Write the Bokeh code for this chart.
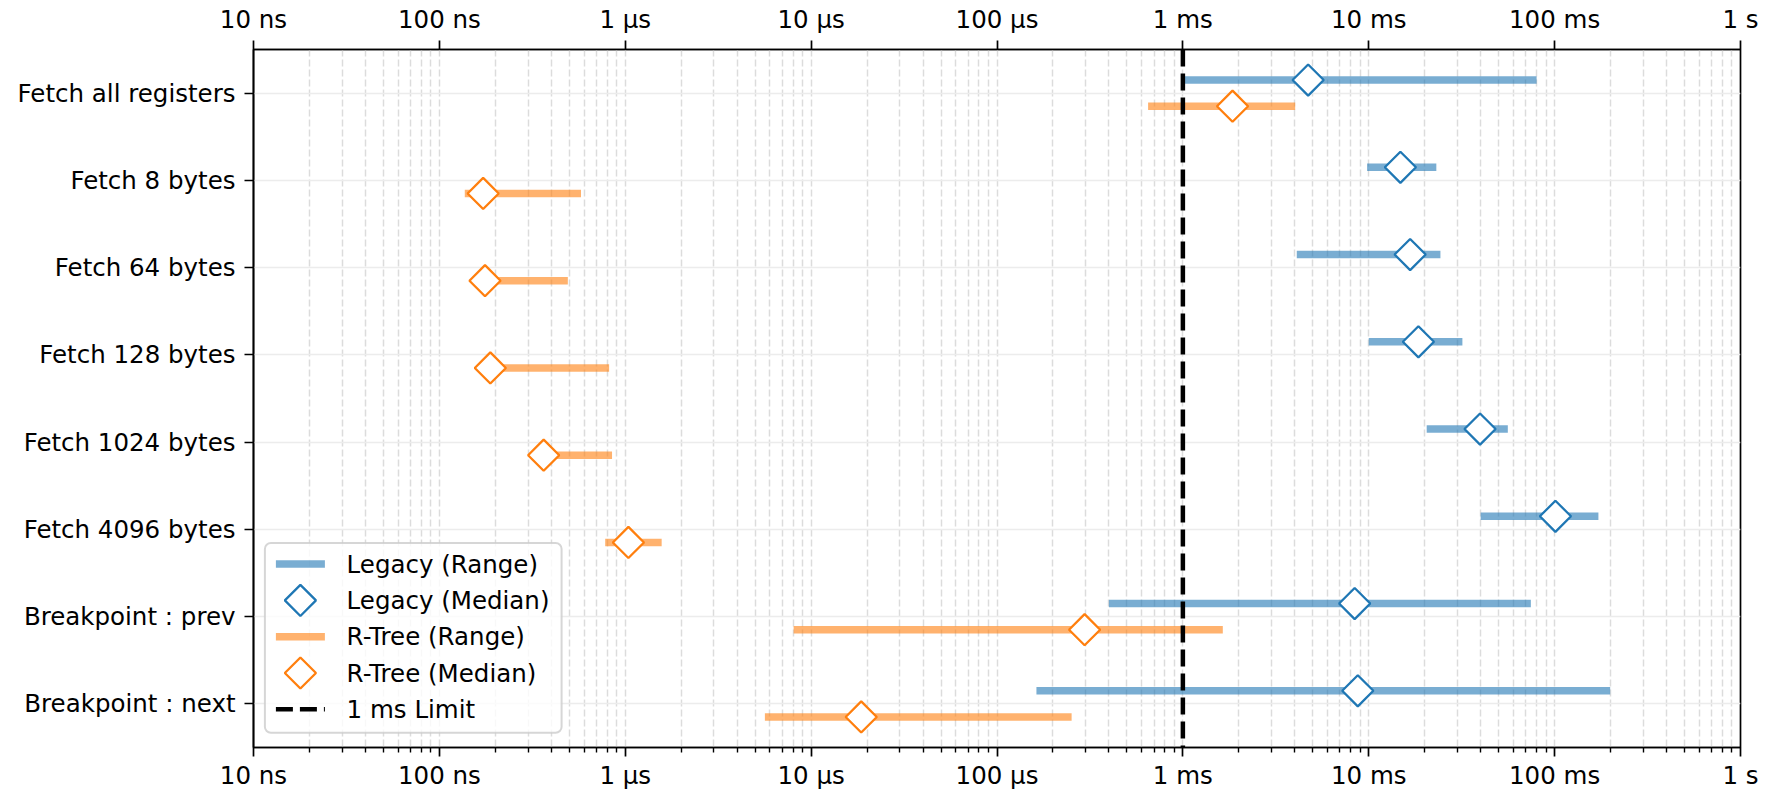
import math
from bokeh.plotting import figure
from bokeh.models import (Range1d, LinearScale, LogAxis, FixedTicker, CustomJSTickFormatter,
                          Span, ColumnDataSource)
from bokeh.core.properties import value
from bokeh.embed import file_html
from bokeh.resources import INLINE

# ---------------- data (seconds) ----------------
CATEGORIES = ["Fetch all registers", "Fetch 8 bytes", "Fetch 64 bytes", "Fetch 128 bytes",
              "Fetch 1024 bytes", "Fetch 4096 bytes", "Breakpoint : prev", "Breakpoint : next"]

LEGACY_MIN = [0.98e-3, 9.8e-3, 4.1e-3, 10.0e-3, 20.5e-3, 40e-3, 0.40e-3, 0.163e-3]
LEGACY_MAX = [80e-3, 23.1e-3, 24.3e-3, 31.9e-3, 56e-3, 172e-3, 74.5e-3, 199e-3]
LEGACY_MED = [4.72e-3, 14.8e-3, 16.7e-3, 18.5e-3, 39.7e-3, 101e-3, 8.4e-3, 8.73e-3]

RTREE_MIN = [0.65e-3, 137e-9, 160e-9, 170e-9, 330e-9, 780e-9, 8.05e-6, 5.64e-6]
RTREE_MAX = [4.02e-3, 578e-9, 491e-9, 819e-9, 849e-9, 1.57e-6, 1.64e-3, 0.252e-3]
RTREE_MED = [1.85e-3, 172e-9, 176e-9, 188e-9, 364e-9, 1.04e-6, 0.296e-3, 18.6e-6]

LIMIT = 1e-3
TICK_LABELS = ["10 ns", "100 ns", "1 µs", "10 µs", "100 µs", "1 ms", "10 ms", "100 ms", "1 s"]
LEGEND_LABELS = ["Legacy (Range)", "Legacy (Median)", "R-Tree (Range)", "R-Tree (Median)", "1 ms Limit"]

# ---------------- style ----------------
BLUE = "#1f77b4"
ORANGE = "#ff7f0e"
FONT = "DejaVu Sans"
FS = "24.5px"
OFF = 0.15
FRAME_W, FRAME_H = 1487, 698

major = [10.0 ** e for e in range(-8, 1)]
minor = [m * 10.0 ** e for e in range(-8, 0) for m in range(2, 10)]

p = figure(x_axis_type="log", x_range=Range1d(1e-8, 1.0), y_range=Range1d(7.5, -0.5),
           frame_width=FRAME_W, frame_height=FRAME_H,
           min_border_left=253, min_border_right=30, min_border_top=49, min_border_bottom=40,
           output_backend="svg", toolbar_location=None)
p.background_fill_color = "white"
p.border_fill_color = "white"
p.outline_line_color = "black"
p.outline_line_width = 1.7
p.outline_line_alpha = 1.0

fmt = CustomJSTickFormatter(args=dict(labels=TICK_LABELS), code="""
const i = Math.round(Math.log10(tick)) + 8;
return (i >= 0 && i < labels.length) ? labels[i] : "";
""")

def style_axis(ax):
    ax.major_label_text_font = FONT
    ax.major_label_text_font_size = FS
    ax.major_label_text_color = "black"
    ax.axis_line_color = "black"
    ax.axis_line_width = 1.7
    ax.major_tick_line_color = "black"
    ax.major_tick_line_width = 1.7
    ax.minor_tick_line_color = "black"
    ax.minor_tick_line_width = 1.4
    ax.major_tick_in = 0
    ax.major_tick_out = 9
    ax.minor_tick_in = 0
    ax.minor_tick_out = 5

xb = p.xaxis[0]
xb.ticker = FixedTicker(ticks=major, minor_ticks=minor)
xb.formatter = fmt
style_axis(xb)
xb.major_label_standoff = 4

xt = LogAxis(ticker=FixedTicker(ticks=major), formatter=fmt)
style_axis(xt)
xt.minor_tick_out = 0
xt.major_label_standoff = 7
p.add_layout(xt, "above")

ya = p.yaxis[0]
ya.ticker = FixedTicker(ticks=list(range(len(CATEGORIES))))
ya.major_label_overrides = {i: c for i, c in enumerate(CATEGORIES)}
style_axis(ya)
ya.minor_tick_out = 0
ya.major_label_standoff = 9

p.xgrid.ticker = FixedTicker(ticks=major, minor_ticks=minor)
p.xgrid.grid_line_color = "#dcdcdc"
p.xgrid.grid_line_width = 1.5
p.xgrid.grid_line_dash = "7 3"
p.xgrid.minor_grid_line_color = "#dcdcdc"
p.xgrid.minor_grid_line_width = 1.5
p.xgrid.minor_grid_line_dash = "7 3"
p.ygrid.ticker = FixedTicker(ticks=list(range(len(CATEGORIES))))
p.ygrid.grid_line_color = "#ececec"
p.ygrid.grid_line_width = 1.7

idx = list(range(len(CATEGORIES)))
leg_src = ColumnDataSource(dict(y=[i - OFF for i in idx], lo=LEGACY_MIN, hi=LEGACY_MAX, med=LEGACY_MED))
rt_src = ColumnDataSource(dict(y=[i + OFF for i in idx], lo=RTREE_MIN, hi=RTREE_MAX, med=RTREE_MED))

RANGE_W = 7.5
p.segment(x0="lo", y0="y", x1="hi", y1="y", source=leg_src, line_color=BLUE, line_alpha=0.6, line_width=RANGE_W)
p.segment(x0="lo", y0="y", x1="hi", y1="y", source=rt_src, line_color=ORANGE, line_alpha=0.6, line_width=RANGE_W)

DSIZE = 22
p.scatter(x="med", y="y", source=leg_src, marker="square", angle=math.pi / 4, size=DSIZE,
          fill_color="white", line_color=BLUE, line_width=2.3)
p.scatter(x="med", y="y", source=rt_src, marker="square", angle=math.pi / 4, size=DSIZE,
          fill_color="white", line_color=ORANGE, line_width=2.3)

p.add_layout(Span(location=LIMIT, dimension="height", line_color="black", line_width=4.5, line_dash="17 7"))

# ---------------- legend (drawn in frame pixel space) ----------------
p.extra_x_ranges = {"lx": Range1d(0, FRAME_W)}
p.extra_x_scales = {"lx": LinearScale()}
p.extra_y_ranges = {"ly": Range1d(FRAME_H, 0)}
p.extra_y_scales = {"ly": LinearScale()}

BOX_L, BOX_R, BOX_T, BOX_B = 11.4, 308.1, 493.5, 683.3
ROW_Y = [514.6 + 36.3 * k for k in range(len(LEGEND_LABELS))]
G_L, G_R, TXT_X = 22.4, 71.4, 93.1
G_C = (G_L + G_R) / 2

box_kw = dict(left=BOX_L, right=BOX_R, top=BOX_T, bottom=BOX_B, fill_color="white", fill_alpha=0.8,
              line_color="#cccccc", line_alpha=0.8, line_width=2, x_range_name="lx", y_range_name="ly")
try:
    p.quad(border_radius=6, **box_kw)
except Exception:
    p.quad(**box_kw)

p.segment(x0=[G_L], y0=[ROW_Y[0]], x1=[G_R], y1=[ROW_Y[0]], line_color=BLUE, line_alpha=0.6,
          line_width=RANGE_W, x_range_name="lx", y_range_name="ly")
p.scatter(x=[G_C], y=[ROW_Y[1]], marker="square", angle=math.pi / 4, size=DSIZE, fill_color="white",
          line_color=BLUE, line_width=2.3, x_range_name="lx", y_range_name="ly")
p.segment(x0=[G_L], y0=[ROW_Y[2]], x1=[G_R], y1=[ROW_Y[2]], line_color=ORANGE, line_alpha=0.6,
          line_width=RANGE_W, x_range_name="lx", y_range_name="ly")
p.scatter(x=[G_C], y=[ROW_Y[3]], marker="square", angle=math.pi / 4, size=DSIZE, fill_color="white",
          line_color=ORANGE, line_width=2.3, x_range_name="lx", y_range_name="ly")
p.segment(x0=[G_L], y0=[ROW_Y[4]], x1=[G_R], y1=[ROW_Y[4]], line_color="black", line_width=4.5,
          line_dash="17 7", x_range_name="lx", y_range_name="ly")
p.text(x=[TXT_X] * len(LEGEND_LABELS), y=ROW_Y, text=LEGEND_LABELS, text_font=value(FONT),
       text_font_size=FS, text_color="black", text_baseline="middle", text_align="left",
       x_range_name="lx", y_range_name="ly")

open("out.html", "w").write(file_html(p, INLINE))
